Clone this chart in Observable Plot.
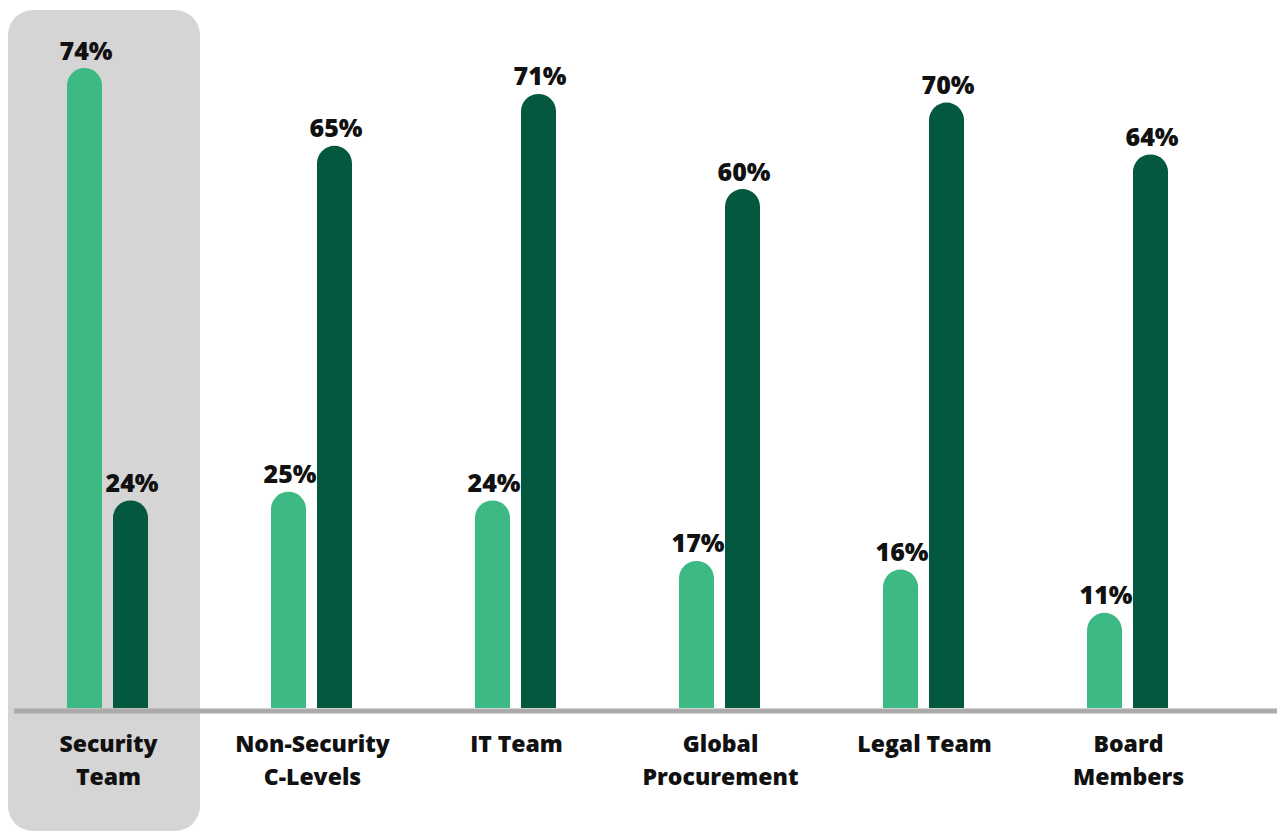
<!DOCTYPE html>
<html>
<head>
<meta charset="utf-8">
<script src="https://cdn.jsdelivr.net/npm/d3@7"></script>
<script src="https://cdn.jsdelivr.net/npm/@observablehq/plot@0.6"></script>
<style>
  html, body { margin: 0; padding: 0; background: #ffffff; }
  #chart svg { display: block; }
</style>
</head>
<body>
<div id="chart"></div>
<script>
// Categories (groups) and their two-line tick labels
const groups = ["Security Team", "Non-Security C-Levels", "IT Team", "Global Procurement", "Legal Team", "Board Members"];
const tickLabels = ["Security\nTeam", "Non-Security\nC-Levels", "IT Team", "Global\nProcurement", "Legal Team", "Board\nMembers"];
// Series values (percent)
const lightValues = [74, 25, 24, 17, 16, 11];
const darkValues = [24, 65, 71, 60, 70, 64];
// Highlighted category
const highlighted = ["Security Team"];

const light = groups.map((g, i) => ({group: g, value: lightValues[i]}));
const dark = groups.map((g, i) => ({group: g, value: darkValues[i]}));
const ticks = groups.map((g, i) => ({group: g, label: tickLabels[i]}));

const LIGHT = "#3dba84";
const DARK = "#03583f";
const OFF = 23;

function barMarks(data, color, dx) {
  const inset = {insetLeft: 84, insetRight: 85};
  return [
    Plot.barY(data, {x: "group", y: "value", fill: color, rx: 17.5, ...inset, dx}),
    Plot.barY(data, {x: "group", y1: 0, y2: d => d.value / 2, fill: color, ...inset, dx}),
    Plot.text(data, {x: "group", y: "value", text: d => d.value + "%", dx: dx + 0.5, dy: -9, lineAnchor: "bottom",
      fontSize: 25, fontWeight: 800, fill: "#111111"})
  ];
}

const chart = Plot.plot({
  width: 1277,
  height: 831,
  marginLeft: 6,
  marginRight: 47,
  marginTop: 0,
  marginBottom: 0,
  style: {fontFamily: "'Open Sans', Lato, sans-serif", background: "#ffffff", overflow: "visible"},
  x: {domain: groups, range: [6, 1230], padding: 0, axis: null},
  y: {domain: [0, d3.max(lightValues.concat(darkValues))], range: [708, 68], axis: null},
  marks: [
    Plot.cell(highlighted, {x: d => d, fill: "#d5d5d5", rx: 25, insetLeft: 2, insetRight: 10, insetTop: 10}),
    ...barMarks(light, LIGHT, -OFF),
    ...barMarks(dark, DARK, OFF),
    Plot.ruleY([0], {stroke: "#aaaaaa", strokeWidth: 5, dy: 2.5, insetLeft: 8, insetRight: -47}),
    Plot.text(ticks, {x: "group", y: () => 0, text: "label", dy: 21, lineAnchor: "top", lineHeight: 1.4,
      fontSize: 23, fontWeight: 800, fill: "#111111"})
  ]
});
document.getElementById("chart").appendChild(chart);
</script>
</body>
</html>
